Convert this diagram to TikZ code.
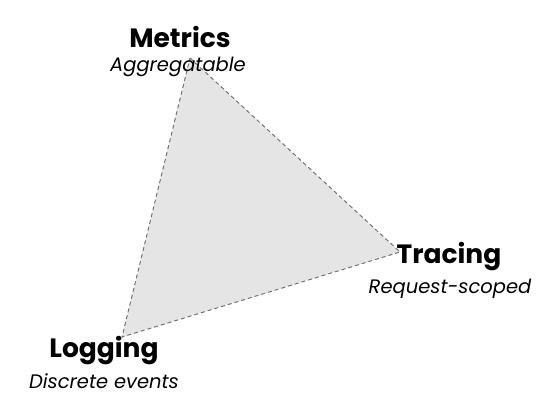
\documentclass[tikz,border=0pt]{standalone}
\usepackage{fontspec}
\setmainfont{Poppins}
\begin{document}
\begin{tikzpicture}[x=1pt,y=-1pt,
  title/.style={font=\bfseries\fontsize{26.5}{30}\selectfont, inner sep=0pt},
  sub/.style={font=\itshape\fontsize{19.5}{22}\selectfont, inner sep=0pt},
  tri/.style={fill=black!10, draw=black!55, dash pattern=on 4pt off 3pt, line width=1pt}]
\useasboundingbox (0,0) rectangle (560,406);
\coordinate (m) at (190,58);
\coordinate (t) at (400,252);
\coordinate (l) at (122,337);
\draw[tri] (m) -- (t) -- (l) -- cycle;
\node[title] (metrics) at (180,37) {Metrics};
\node[sub] (agg) at (178,67) {Aggregatable};
\node[title] (tracing) at (449,257) {Tracing};
\node[sub] (req) at (450,289) {Request-scoped};
\node[title] (logging) at (104,351) {Logging};
\node[sub] (disc) at (104,381) {Discrete events};
\end{tikzpicture}
\end{document}
